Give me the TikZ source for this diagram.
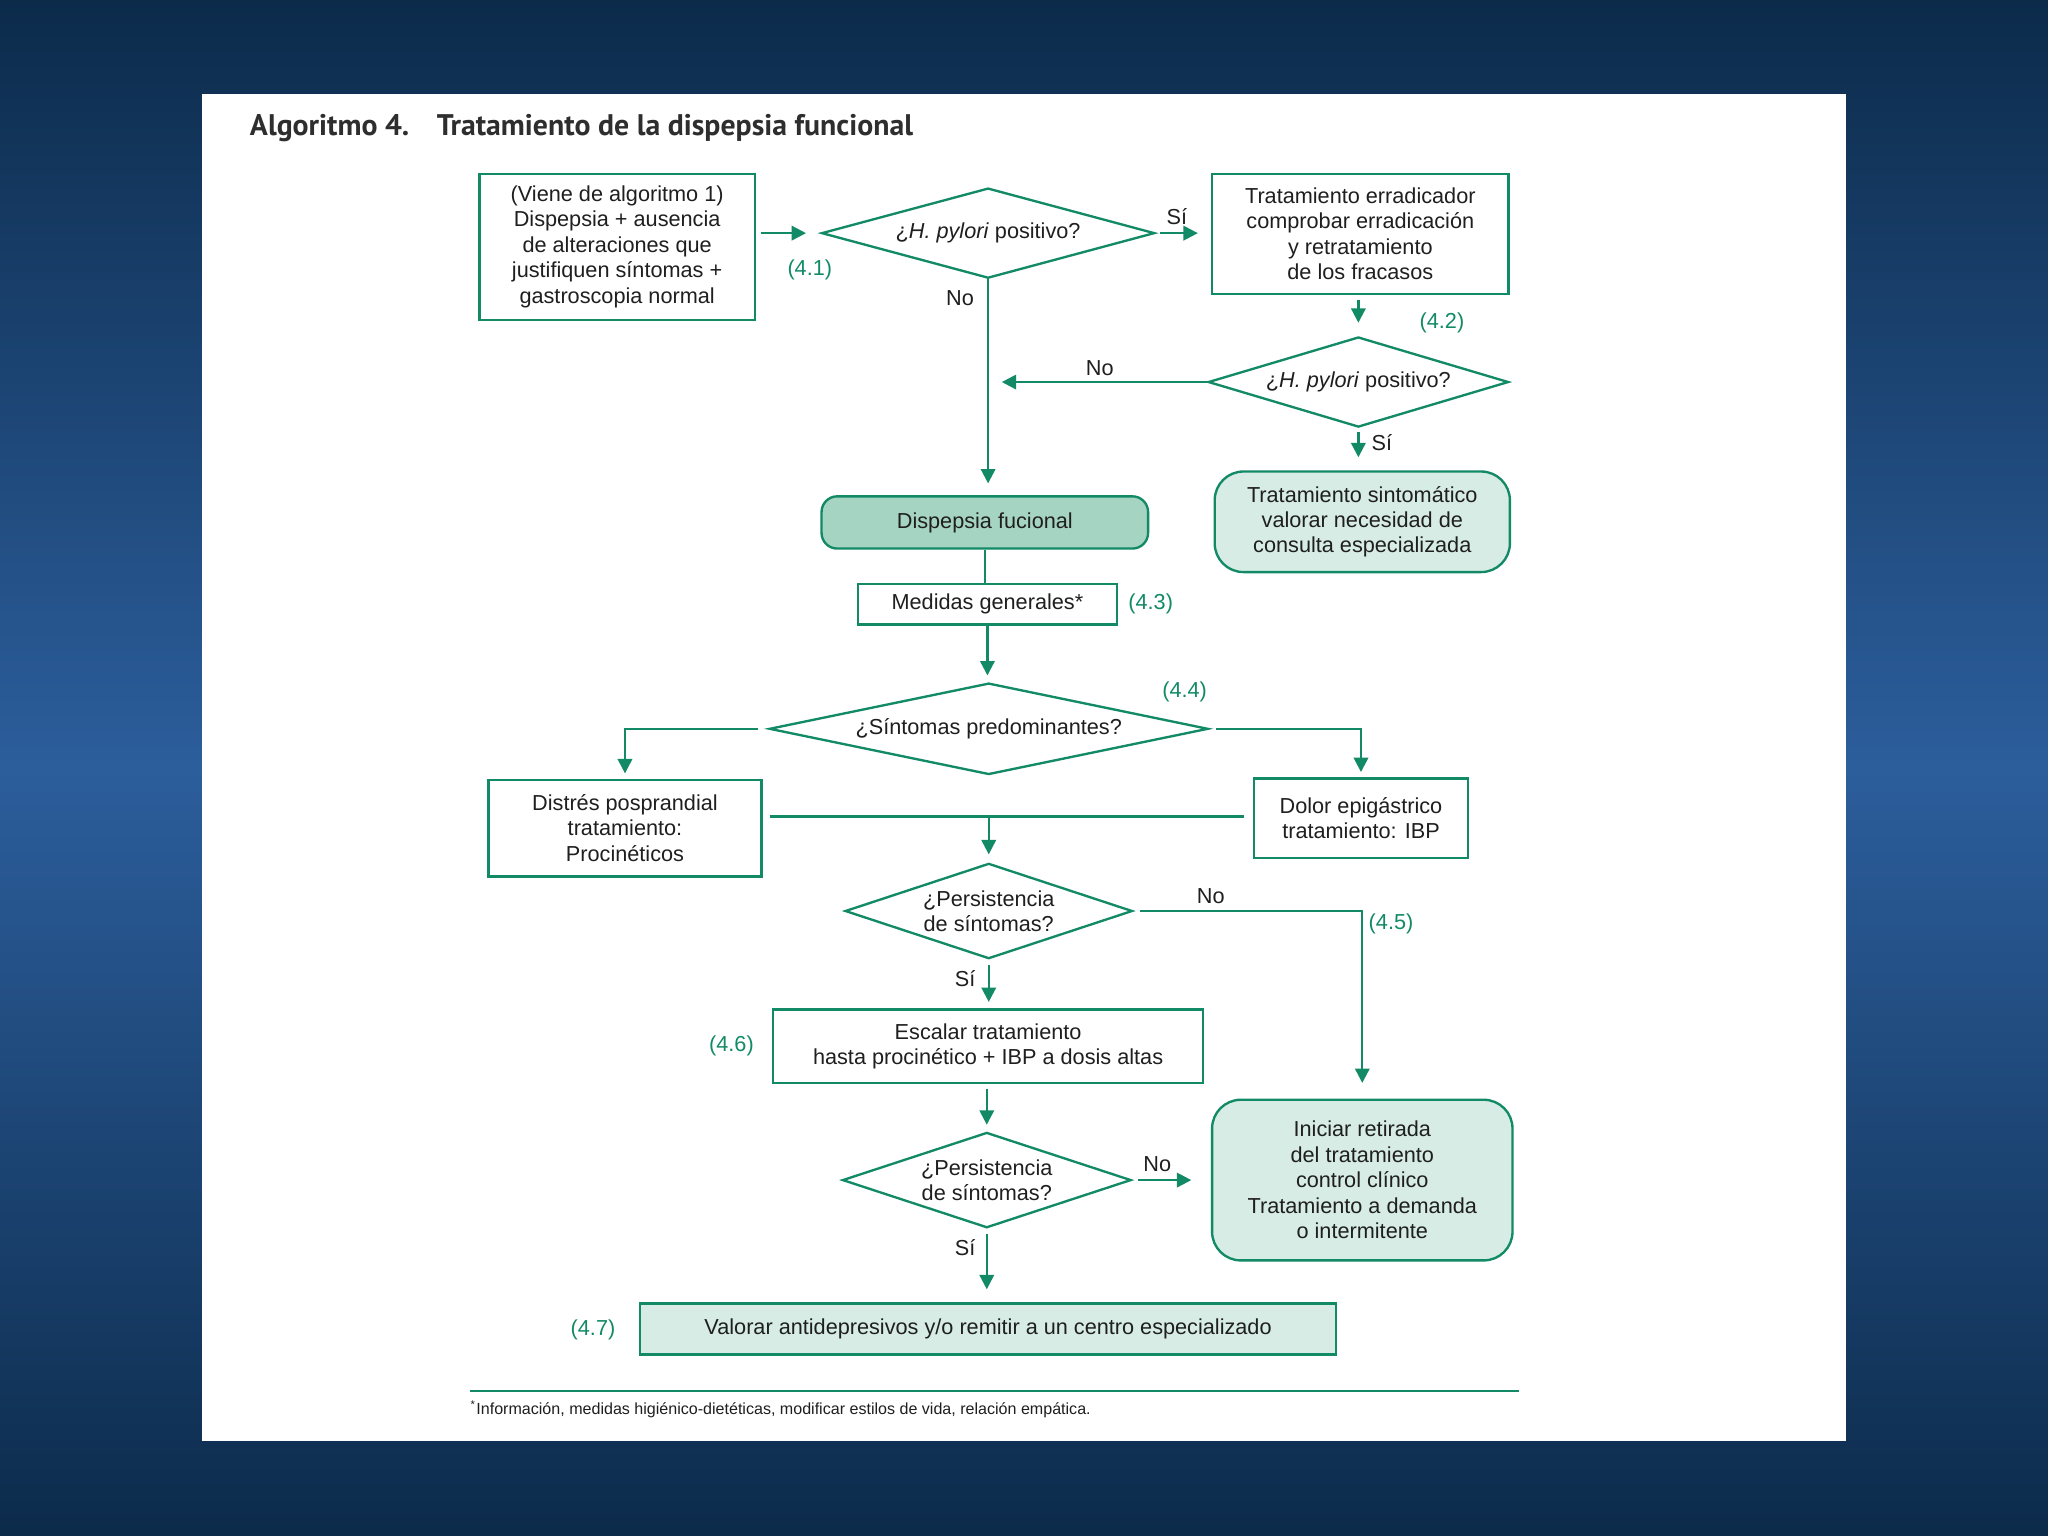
\documentclass[tikz,border=0pt]{standalone}
\usepackage{fontspec}
\setmainfont{Liberation Sans}
\newfontfamily\titlefont{PT Sans}
\usetikzlibrary{shapes.geometric,arrows.meta}
\definecolor{grn}{HTML}{138A66}
\definecolor{lite}{HTML}{D6ECE5}
\definecolor{midf}{HTML}{A5D4C3}
\definecolor{bgdark}{HTML}{0C2B4B}
\definecolor{bgmid}{HTML}{2C5E9C}
\begin{document}
\begin{tikzpicture}[x=0.5pt,y=-0.5pt,
  txt/.style={font=\fontsize{8.3}{9.75}\selectfont, text=black!88},
  box/.style={txt, draw=grn, line width=0.9pt, align=center, inner sep=0pt},
  dia/.style={box, diamond},
  lbl/.style={txt},
  num/.style={txt, text=grn},
  ttl/.style={anchor=base west, inner sep=0pt, font=\titlefont\bfseries\fontsize{11.4}{13}\selectfont, text=black!82},
  ln/.style={draw=grn, line width=0.9pt},
  arr/.style={ln, -{Triangle[length=5.5pt,width=5.5pt]}}
]
\useasboundingbox (0,0) rectangle (1568,1176);
\fill[top color=bgdark, bottom color=bgdark, middle color=bgmid] (0,0) rectangle (1568,1176);
\fill[white] (155,72) rectangle (1413,1103);

% title
\node[ttl] (t1) at (191,104) {Algoritmo 4.};
\node[ttl] (t2) at (334,104) {Tratamiento de la dispepsia funcional};

% nodes
\node[box, minimum width=105.5pt, minimum height=56pt] (b1) at (472.5,189)
  {(Viene de algoritmo 1)\\Dispepsia + ausencia\\de alteraciones que\\justifiquen síntomas +\\gastroscopia normal};
\node[dia, aspect=3.7, minimum width=127.5pt, minimum height=34.5pt] (d1) at (756.5,178.5)
  {¿\textit{H. pylori} positivo?};
\node[box, minimum width=113.5pt, minimum height=46pt] (b2) at (1041.5,179)
  {Tratamiento erradicador\\comprobar erradicación\\y retratamiento\\de los fracasos};
\node[dia, aspect=3.3, minimum width=115pt, minimum height=34.5pt] (d2) at (1040,292.5)
  {¿\textit{H. pylori} positivo?};
\node[box, fill=lite, rounded corners=11pt, minimum width=113pt, minimum height=38.5pt] (b3) at (1043,399.5)
  {Tratamiento sintomático\\valorar necesidad de\\consulta especializada};
\node[box, fill=midf, rounded corners=6pt, minimum width=125pt, minimum height=20pt] (dF) at (754,400)
  {Dispepsia fucional};
\node[box, minimum width=99pt, minimum height=15.5pt] (med) at (756,462.5)
  {Medidas generales*};
\node[dia, aspect=4.8, minimum width=168pt, minimum height=35pt] (d3) at (757,558)
  {¿Síntomas predominantes?};
\node[box, minimum width=104.5pt, minimum height=37pt] (dis) at (478.5,634)
  {Distrés posprandial\\tratamiento:\\Procinéticos};
\node[box, minimum width=82pt, minimum height=30.5pt] (dol) at (1042,626.5)
  {Dolor epigástrico\\tratamiento: IBP};
\node[dia, aspect=3, minimum width=110pt, minimum height=36.5pt] (d4) at (757,697.5)
  {¿Persistencia\\de síntomas?};
\node[box, minimum width=164.5pt, minimum height=28pt] (esc) at (756.5,801)
  {Escalar tratamiento\\hasta procinético + IBP a dosis altas};
\node[dia, aspect=3, minimum width=110.5pt, minimum height=36.5pt] (d5) at (755.5,903.5)
  {¿Persistencia\\de síntomas?};
\node[box, fill=lite, rounded corners=11pt, minimum width=115pt, minimum height=61.5pt] (ini) at (1043,903.5)
  {Iniciar retirada\\del tratamiento\\control clínico\\Tratamiento a demanda\\o intermitente};
\node[box, fill=lite, minimum width=266.5pt, minimum height=19.5pt] (val) at (756.5,1017.5)
  {Valorar antidepresivos y/o remitir a un centro especializado};

% connectors
\coordinate (c1) at (757,292.5);
\coordinate (j) at (757,625);
\draw[arr, shorten <=2pt, shorten >=5.5pt] (b1.east |- d1.west) -- (d1.west);
\draw[arr, shorten <=1.5pt, shorten >=5pt] (d1.east) -- (d1.east -| b2.west);
\draw[arr, shorten <=2pt, shorten >=5pt] (d2.north |- b2.south) -- (d2.north);
\draw[arr, shorten >=5pt] (d2.west) -- (c1);
\draw[arr, shorten >=4.5pt] (d1.south) -- (d1.south |- dF.north);
\draw[arr, shorten <=1.5pt, shorten >=5pt] (d2.south) -- (d2.south |- b3.north);
\draw[ln] (dF.south) -- (dF.south |- med.north);
\draw[arr, shorten >=2.5pt] (med.south) -- (med.south |- d3.north);
\draw[arr, shorten <=4pt, shorten >=2pt] (d3.west) -| (dis.north);
\draw[arr, shorten <=2.5pt, shorten >=2pt] (d3.east) -| (dol.north);
\draw[ln, shorten <=3pt, shorten >=3.5pt] (dis.east |- j) -- (dol.west |- j);
\draw[arr, shorten >=3pt] (j) -- (d4.north);
\draw[arr, shorten <=2.5pt, shorten >=6pt] (d4.east) -| (ini.north);
\draw[arr, shorten <=2pt, shorten >=2.5pt] (d4.south) -- (d4.south |- esc.north);
\draw[arr, shorten <=2pt, shorten >=2.5pt] (esc.south -| d5.north) -- (d5.north);
\draw[arr, shorten <=2pt, shorten >=7.5pt] (d5.east) -- (d5.east -| ini.west);
\draw[arr, shorten <=2pt, shorten >=5pt] (d5.south) -- (d5.south |- val.north);

% branch labels
\node[lbl] (s1) at (901,166) {Sí};
\node[lbl] (n1) at (735,228) {No};
\node[lbl] (n2) at (842,282) {No};
\node[lbl] (s2) at (1058,339) {Sí};
\node[lbl] (n3) at (927,686) {No};
\node[lbl] (s3) at (739,749) {Sí};
\node[lbl] (n4) at (886,891) {No};
\node[lbl] (s4) at (739,955) {Sí};

% step numbers
\node[num] (k1) at (620,207) {(4.1)};
\node[num] (k2) at (1104,247) {(4.2)};
\node[num] (k3) at (881,462) {(4.3)};
\node[num] (k4) at (907,530) {(4.4)};
\node[num] (k5) at (1065,707) {(4.5)};
\node[num] (k6) at (560,801) {(4.6)};
\node[num] (k7) at (454,1018) {(4.7)};

% footnote
\coordinate (fa) at (360,1065);
\coordinate (fb) at (1163,1065);
\draw[ln] (fa) -- (fb);
\node[anchor=west, inner sep=0pt, font=\fontsize{6.15}{7}\selectfont, text=black!88] (fn) at (360,1079)
  {\textsuperscript{*}Información, medidas higiénico-dietéticas, modificar estilos de vida, relación empática.};
\end{tikzpicture}
\end{document}
